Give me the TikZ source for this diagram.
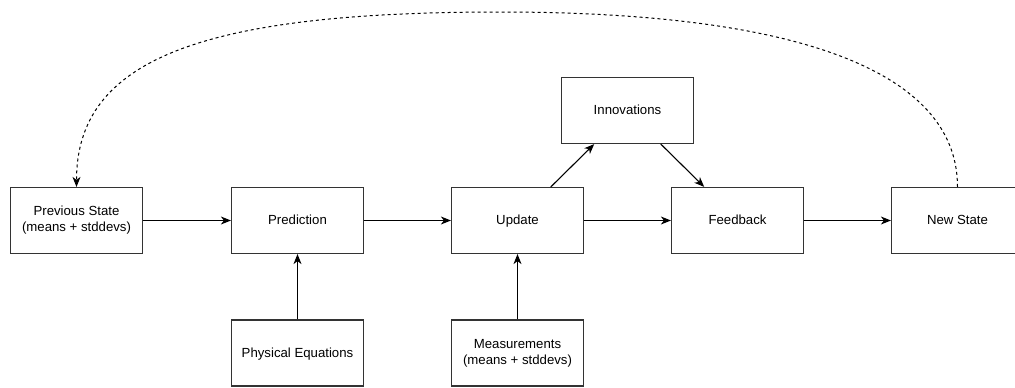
\documentclass[tikz,border=0pt]{standalone}
\usepackage{fontspec}
\setmainfont{Liberation Sans}
\usetikzlibrary{arrows.meta,calc}
\begin{document}
\begin{tikzpicture}[x=1pt,y=-1pt,
  box/.style={draw=black!80,line width=1.2pt,minimum width=132pt,minimum height=66pt,inner sep=0pt,align=center,font=\fontsize{13.2}{16}\selectfont,fill=white},
  onel/.style={text height=9.5pt,text depth=1.5pt},
  conn/.style={line width=1.1pt,-{Stealth[length=10pt,width=8pt,inset=3pt]}},
  dconn/.style={line width=1pt,dash pattern=on 3pt off 3pt,-{Stealth[length=10pt,width=8pt,inset=3pt]}}]
\useasboundingbox (0,0) rectangle (1015,388);
\clip (0,0) rectangle (1015,388);
\node[box] (prev) at (76.5,220.5) {Previous State\\(means + stddevs)};
\node[box,onel] (pred) at (297.5,220.5) {Prediction};
\node[box,onel] (upd) at (517.5,220.5) {Update};
\node[box,onel] (fb) at (737.5,220.5) {Feedback};
\node[box,onel] (new) at (957.5,220.5) {New State};
\node[box,onel] (inn) at (627.5,110.5) {Innovations};
\node[box,onel] (phys) at (297.5,353) {Physical Equations};
\node[box] (meas) at (517.5,353) {Measurements\\(means + stddevs)};
\coordinate (u1) at ($(upd.north west)!0.75!(upd.north east)$);
\coordinate (i1) at ($(inn.south west)!0.25!(inn.south east)$);
\coordinate (i2) at ($(inn.south west)!0.75!(inn.south east)$);
\coordinate (f1) at ($(fb.north west)!0.25!(fb.north east)$);
\coordinate (peak) at (500,12);
\draw[conn] (prev) -- (pred);
\draw[conn] (pred) -- (upd);
\draw[conn] (upd) -- (fb);
\draw[conn] (fb) -- (new);
\draw[conn] (phys) -- (pred);
\draw[conn] (meas) -- (upd);
\draw[conn] (u1) -- (i1);
\draw[conn] (i2) -- (f1);
\draw[dconn] (new.north) .. controls (957.5,80) and (820,12) .. (peak) .. controls (200,12) and (76.5,60) .. (prev.north);
\end{tikzpicture}
\end{document}
